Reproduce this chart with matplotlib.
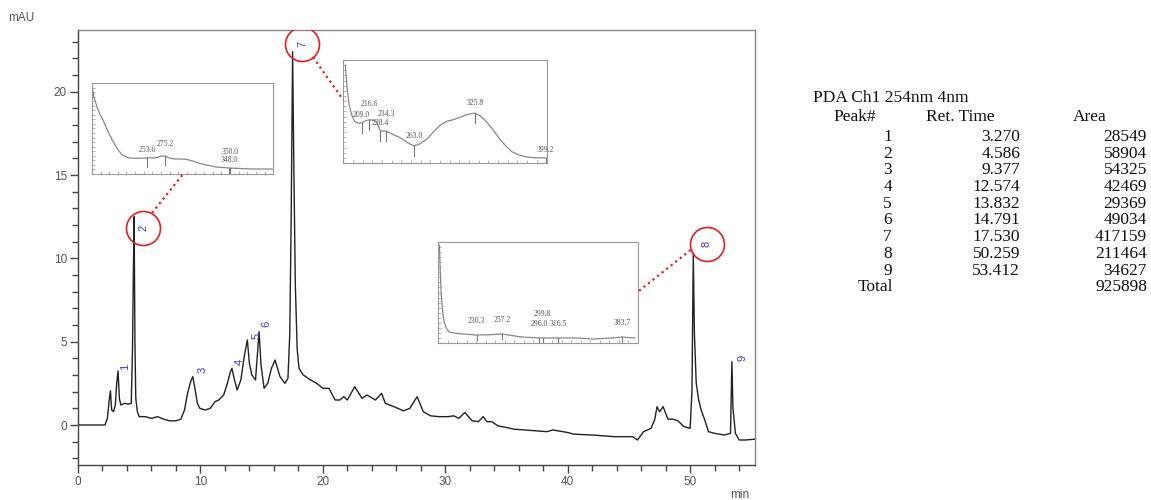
import numpy as np
import matplotlib.pyplot as plt
from matplotlib.ticker import MultipleLocator

# chromatogram trace (min, mAU)
time_min = [0, 2.2, 2.4, 2.55, 2.65, 2.75, 2.9, 3.05, 3.15, 3.27, 3.38, 3.5, 3.8, 4.1,
            4.35, 4.45, 4.52, 4.586, 4.65, 4.72, 4.85, 5.0, 5.5, 6.0, 6.5, 7.0, 7.5, 8.0,
            8.4, 8.7, 8.95, 9.2, 9.377, 9.55, 9.75, 9.95, 10.4, 10.8, 11.2, 11.5, 11.9,
            12.2, 12.45, 12.574, 12.75, 13.0, 13.3, 13.6, 13.832, 14.0, 14.2, 14.5, 14.65,
            14.791, 14.95, 15.2, 15.5, 15.8, 16.1, 16.5, 16.9, 17.15, 17.3, 17.42, 17.53,
            17.63, 17.75, 17.9, 18.05, 18.4, 19.0, 19.5, 20.0, 20.5, 21.0, 21.4, 21.7,
            22.0, 22.6, 23.2, 23.6, 24.3, 24.8, 25.1, 25.8, 26.6, 27.1, 27.7, 28.2, 28.8,
            29.5, 30.2, 30.7, 31.1, 31.6, 32.2, 32.7, 33.1, 33.4, 33.8, 34.3, 35.0, 35.6,
            36.5, 37.5, 38.3, 38.8, 39.2, 40.0, 40.5, 42.0, 43.8, 45.3, 45.7, 46.2, 46.8,
            47.1, 47.3, 47.5, 47.8, 48.0, 48.2, 48.6, 49.0, 49.5, 50.0, 50.15, 50.259,
            50.35, 50.5, 50.7, 50.9, 51.2, 51.5, 52.0, 52.8, 53.3, 53.412, 53.5, 53.7,
            54.0, 54.5, 55.3]
signal_mau = [0, 0, 0.4, 1.5, 2.05, 0.9, 0.8, 1.2, 2.4, 3.25, 1.6, 1.2, 1.3, 1.25,
              1.3, 4.5, 9.0, 12.5, 5.0, 1.6, 0.8, 0.5, 0.5, 0.4, 0.5, 0.35, 0.25, 0.25,
              0.35, 0.9, 1.9, 2.6, 2.9, 2.2, 1.3, 1.0, 0.9, 1.0, 1.4, 1.5, 1.8,
              2.5, 3.2, 3.4, 2.8, 2.1, 2.7, 4.2, 5.1, 3.7, 3.0, 2.7, 4.2,
              5.6, 3.6, 2.2, 2.5, 3.4, 3.9, 2.9, 2.5, 2.8, 5.5, 13, 22.4,
              15.5, 8.5, 4.6, 3.4, 3.0, 2.7, 2.5, 2.2, 2.2, 1.5, 1.5, 1.7,
              1.5, 2.3, 1.6, 1.8, 1.5, 1.9, 1.3, 1.1, 0.85, 1.0, 1.7, 0.8, 0.55,
              0.5, 0.5, 0.55, 0.4, 0.75, 0.25, 0.2, 0.5, 0.2, 0.2, -0.05, -0.15, -0.25,
              -0.3, -0.35, -0.4, -0.3, -0.35, -0.45, -0.55, -0.6, -0.7, -0.7, -0.9, -0.4, -0.2,
              0.3, 1.1, 0.8, 1.1, 0.7, 0.35, 0.35, 0.25, -0.1, -0.2, 2.0, 10.3,
              5.5, 2.5, 1.5, 0.9, 0.3, -0.4, -0.5, -0.6, -0.5, 3.8, 1.0, -0.5,
              -0.9, -0.9, -0.85]

# peak table
peak_no = [1, 2, 3, 4, 5, 6, 7, 8, 9]
ret_time = [3.270, 4.586, 9.377, 12.574, 13.832, 14.791, 17.530, 50.259, 53.412]
area = [28549, 58904, 54325, 42469, 29369, 49034, 417159, 211464, 34627]
total_area = 925898

# where the blue peak numbers sit (min, mAU)
label_x = [3.84, 5.31, 10.14, 13.25, 14.55, 15.37, 18.32, 51.35, 54.29]
label_y = [3.5, 11.8, 3.3, 3.8, 5.35, 6.05, 22.85, 10.85, 4.0]
circled = [2, 7, 8]

# UV spectra shown in the three insets (nm, relative absorbance %)
spec2_nm = [190.0, 192.5, 195.8, 199.0, 202.8, 208.0, 213.4, 219.0, 225.0, 233.1,
            243.0, 252.8, 264.4, 270.0, 274.9, 280.0, 285.3, 292.0, 299.2, 308.5,
            315.0, 322.4, 334.0, 349.1, 375.7, 399.0]
spec2_abs = [97.8, 84.0, 73.6, 66.0, 59.3, 48.0, 37.4, 28.0, 20.9, 17.6,
             17.2, 17.6, 17.8, 19.5, 19.8, 17.5, 16.5, 16.5, 16.2, 13.8,
             11.6, 9.9, 7.7, 6.6, 5.5, 5.5]
spec2_peaks = [(253.6, "253.6", 4), (275.2, "275.2", 9), (348.5, "348.0", 4),
               (350.0, "350.0", 13)]

spec7_nm = [192.1, 194.0, 196.1, 199.0, 202.2, 206.0, 209.0, 213.0, 216.6, 220.5,
            224.5, 228.4, 234.3, 242.0, 249.8, 256.0, 263.0, 270.0, 277.2, 284.0,
            290.4, 297.0, 303.5, 311.0, 317.7, 325.8, 332.0, 338.0, 345.0, 351.0,
            358.0, 364.0, 371.0, 378.5, 386.0, 394.7, 399.2]
spec7_abs = [95, 72, 56, 46, 40, 38.5, 39, 41, 42, 41.5,
             40, 31, 31, 27.5, 24, 20, 16.5, 19, 24, 31,
             37, 40.5, 42, 44.5, 47, 48.5, 45.5, 40, 32, 24,
             16.5, 11, 8, 6, 5.2, 5, 5]
spec7_peaks = [(209.0, "209.0", 4), (216.6, "216.6", 11), (228.4, "228.4", 4),
               (234.3, "234.3", 13), (263.0, "263.0", 6), (325.8, "325.8", 6),
               (399.2, "399.2", 4)]

spec8_nm = [191.0, 192.0, 193.0, 194.5, 196.1, 198.5, 201.3, 207.0, 215.8, 230.3,
            245.0, 257.2, 267.0, 277.9, 296.0, 299.8, 316.5, 332.8, 353.5, 370.0,
            383.7, 397.0]
spec8_abs = [97, 70, 47.5, 31, 20.8, 14.5, 10.9, 9.8, 8.9, 7.9,
             8.2, 8.9, 7.5, 5.9, 5.0, 5.0, 5.0, 5.0, 4.0, 4.8,
             5.9, 5.0]
spec8_peaks = [(230.3, "230.3", 10), (257.2, "257.2", 10), (296.0, "296.0", 10),
               (299.8, "299.8", 20), (316.5, "316.5", 10), (383.7, "383.7", 10)]

W, H = 1151, 500
fig = plt.figure(figsize=(W / 100, H / 100), dpi=100)
ax = fig.add_axes([78 / W, 1 - 465 / H, (755 - 78) / W, (465 - 30) / H])

ax.plot(time_min, signal_mau, color='#222222', lw=1.0, zorder=2)
ax.set_xlim(0, 55.3)
ax.set_ylim(-2.4, 23.7)

ax.xaxis.set_major_locator(MultipleLocator(10))
ax.xaxis.set_minor_locator(MultipleLocator(2))
ax.yaxis.set_major_locator(MultipleLocator(5))
ax.yaxis.set_minor_locator(MultipleLocator(1))
ax.tick_params(which='major', length=6, width=1, color='#444444',
               labelsize=8.5, labelcolor='#555555', pad=2)
ax.tick_params(which='minor', length=4, width=1, color='#444444')
for s in ax.spines.values():
    s.set_color('#888888')
    s.set_linewidth(1)
ax.spines['left'].set_color('#444444')
ax.spines['bottom'].set_color('#444444')
for lab in ax.get_xticklabels() + ax.get_yticklabels():
    lab.set_family('Liberation Sans')

fig.text(8 / W, 1 - 18 / H, "mAU", fontsize=8.5, color='#555555',
         family='Liberation Sans', va='center')
fig.text(730 / W, 1 - 495 / H, "min", fontsize=8.5, color='#555555',
         family='Liberation Sans', va='center')

# peak numbers
for n, lx, ly in zip(peak_no, label_x, label_y):
    ax.text(lx, ly, str(n), rotation=90, color='#3a3acc', fontsize=8,
            family='Liberation Sans', ha='center', va='center', zorder=5)
    if n in circled:
        ax.plot(lx, ly, 'o', ms=24.5, mfc='none', mec='#e02020', mew=1.2, zorder=5)


def spectrum_inset(bounds, nm, ab, peaks, mark_len):
    ins = ax.inset_axes(bounds, transform=ax.transData, zorder=4)
    ins.set_facecolor('white')
    ins.plot(nm, ab, color='#888888', lw=0.9)
    for wl, txt, dy in peaks:
        yv = np.interp(wl, nm, ab)
        ins.plot([wl, wl], [yv, yv - mark_len], color='#777777', lw=0.8)
        ins.text(wl, yv + dy, txt, fontsize=5.5, color='#555555', ha='center',
                 va='bottom', family='Liberation Serif')
    ins.set_xlim(190, 400)
    ins.set_ylim(0, 100)
    ins.xaxis.set_major_locator(MultipleLocator(10))
    ins.yaxis.set_major_locator(MultipleLocator(5))
    ins.tick_params(direction='in', length=2, width=0.6, color='#aaaaaa',
                    labelbottom=False, labelleft=False)
    for s in ins.spines.values():
        s.set_color('#999999')
        s.set_linewidth(0.8)
    return ins


spectrum_inset([1.14, 15.06, 14.8, 5.46], spec2_nm, spec2_abs, spec2_peaks, 10)
spectrum_inset([21.67, 15.72, 16.6, 6.18], spec7_nm, spec7_abs, spec7_peaks, 10)
spectrum_inset([29.44, 4.92, 16.27, 6.06], spec8_nm, spec8_abs, spec8_peaks, 5)

# red dotted leaders from circles to insets
red_dots = dict(color='#e02020', lw=1.6, ls=(0, (1, 1.6)), zorder=5, clip_on=False)
ax.plot([6.05, 8.59], [12.72, 15.06], **red_dots)
ax.plot([19.2, 21.67], [22.07, 19.5], **red_dots)
ax.plot([50.04, 45.71], [10.5, 7.98], **red_dots)

# peak table on the right
serif = dict(family='Liberation Serif', fontsize=12.5, color='#111111', va='center')
fig.text(813 / W, 1 - 98 / H, "PDA Ch1 254nm 4nm", ha='left', **serif)
fig.text(833 / W, 1 - 117 / H, "Peak#", ha='left', **serif)
fig.text(926 / W, 1 - 117 / H, "Ret. Time", ha='left', **serif)
fig.text(1073 / W, 1 - 117 / H, "Area", ha='left', **serif)
row_y = 137
for n, rt, a in zip(peak_no, ret_time, area):
    fig.text(892 / W, 1 - row_y / H, str(n), ha='right', **serif)
    fig.text(1020 / W, 1 - row_y / H, f"{rt:.3f}", ha='right', **serif)
    fig.text(1147 / W, 1 - row_y / H, str(a), ha='right', **serif)
    row_y += 16.7
fig.text(858 / W, 1 - row_y / H, "Total", ha='left', **serif)
fig.text(1147 / W, 1 - row_y / H, str(total_area), ha='right', **serif)

fig.savefig("out.png", dpi=100, facecolor='white')
